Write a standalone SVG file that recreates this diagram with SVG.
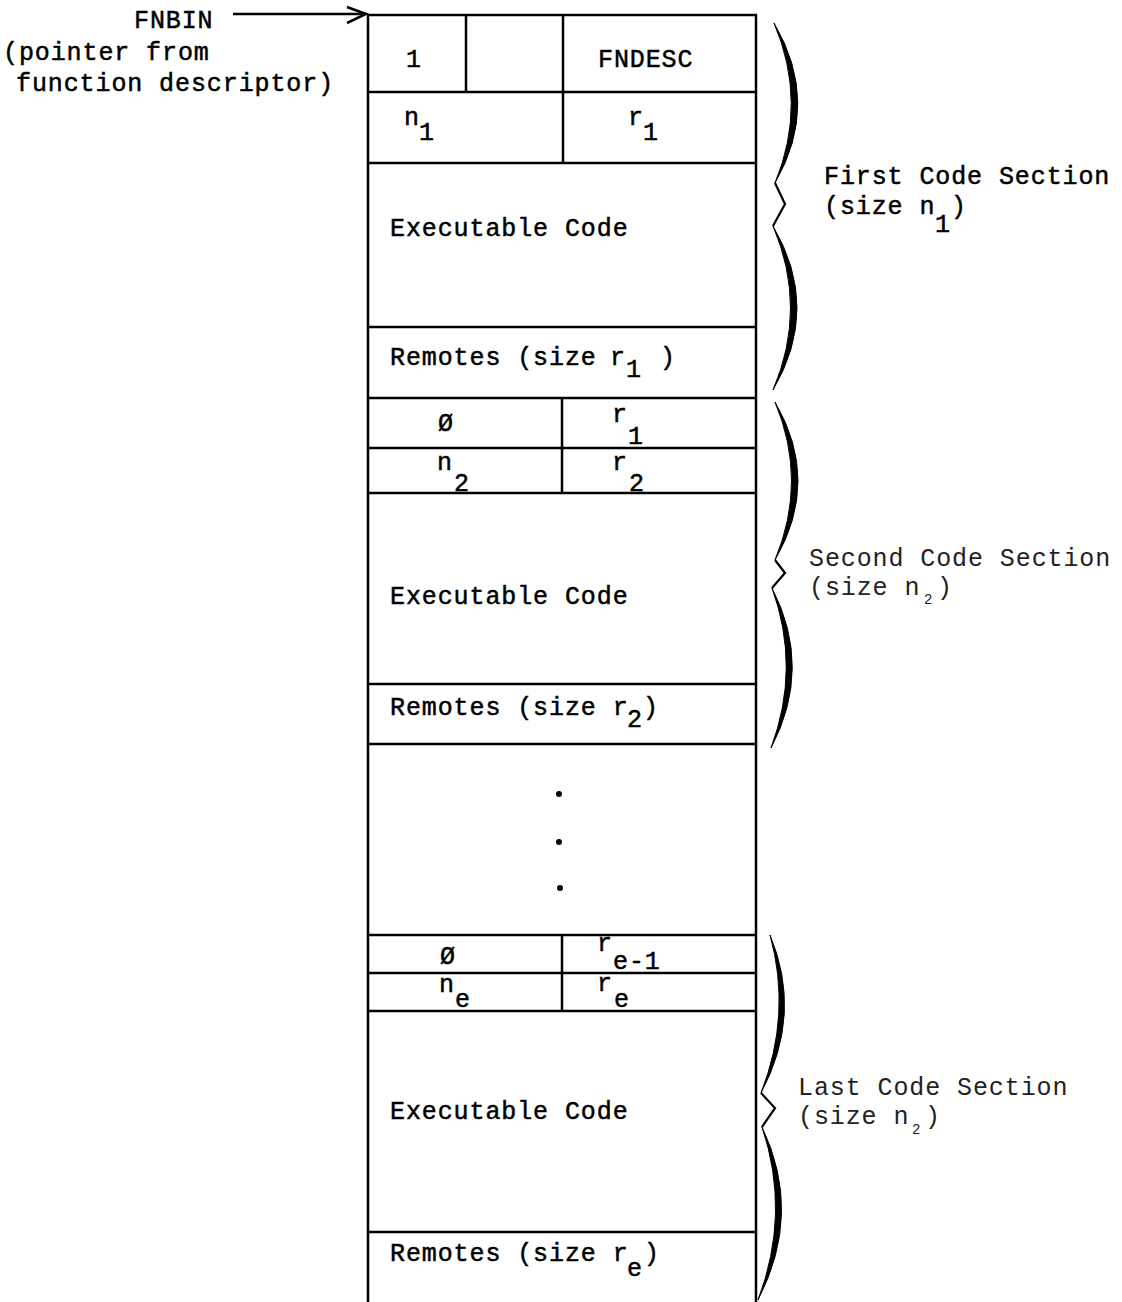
<svg xmlns="http://www.w3.org/2000/svg" width="1122" height="1302" viewBox="0 0 1122 1302">
<style>
.t{font-family:"Liberation Mono","DejaVu Sans Mono",monospace;font-size:25px;letter-spacing:0.9px;fill:#000;stroke:#000;stroke-width:0.5}
.lt{fill:#222;stroke:none}
.ln{stroke:#000;stroke-width:2.5;fill:none}
.br{fill:#000;stroke:#000;stroke-width:1}
.zz{fill:none;stroke:#000;stroke-width:2.2;stroke-linejoin:miter}
</style>
<rect width="1122" height="1302" fill="#fff"/>

<g id="pointer-label">
<text class="t" x="134" y="28">FNBIN</text>
<text class="t" x="3" y="60">(pointer from</text>
<text class="t" x="16" y="91">function descriptor)</text>
</g>

<g id="connectors">
<line class="ln" x1="233" y1="14" x2="365" y2="14"/>
<polyline class="ln" points="347,7 366,14 347,23"/>
</g>

<g id="table-frame">
<line class="ln" x1="367" y1="15" x2="757" y2="15"/>
<line class="ln" x1="368" y1="15" x2="368" y2="1302"/>
<line class="ln" x1="756" y1="15" x2="756" y2="1302"/>
</g>

<g id="header-row">
<line class="ln" x1="466" y1="15" x2="466" y2="92"/>
<line class="ln" x1="563" y1="15" x2="563" y2="163"/>
<line class="ln" x1="368" y1="92" x2="756" y2="92"/>
<text class="t" x="406" y="67">1</text>
<text class="t" x="598" y="67">FNDESC</text>
</g>

<g id="size-row-1">
<line class="ln" x1="368" y1="163" x2="756" y2="163"/>
<text class="t" x="404" y="125">n</text><text class="t" x="419" y="140">1</text>
<text class="t" x="628" y="125">r</text><text class="t" x="643" y="140">1</text>
</g>

<g id="code-1">
<line class="ln" x1="368" y1="327" x2="756" y2="327"/>
<text class="t" x="390" y="236">Executable Code</text>
</g>

<g id="remotes-1">
<line class="ln" x1="368" y1="398" x2="756" y2="398"/>
<text class="t" x="390" y="365">Remotes (size</text>
<text class="t" x="610" y="365">r</text><text class="t" x="626" y="377">1</text>
<text class="t" x="660" y="365">)</text>
</g>

<g id="link-row-1">
<line class="ln" x1="368" y1="448" x2="756" y2="448"/>
<line class="ln" x1="562" y1="398" x2="562" y2="493"/>
<text class="t" x="438" y="431">Ø</text>
<text class="t" x="612" y="422">r</text><text class="t" x="628" y="444">1</text>
</g>

<g id="size-row-2">
<line class="ln" x1="368" y1="493" x2="756" y2="493"/>
<text class="t" x="437" y="470">n</text><text class="t" x="454" y="491">2</text>
<text class="t" x="612" y="470">r</text><text class="t" x="629" y="491">2</text>
</g>

<g id="code-2">
<line class="ln" x1="368" y1="684" x2="756" y2="684"/>
<text class="t" x="390" y="604">Executable Code</text>
</g>

<g id="remotes-2">
<line class="ln" x1="368" y1="744" x2="756" y2="744"/>
<text class="t" x="390" y="715">Remotes (size r</text>
<text class="t" x="627" y="727">2</text>
<text class="t" x="643" y="715">)</text>
</g>

<g id="ellipsis">
<circle cx="559" cy="794" r="3"/>
<circle cx="559" cy="842" r="3"/>
<circle cx="560" cy="888" r="3"/>
</g>

<g id="link-row-e">
<line class="ln" x1="368" y1="935" x2="756" y2="935"/>
<line class="ln" x1="368" y1="973" x2="756" y2="973"/>
<line class="ln" x1="562" y1="935" x2="562" y2="1011"/>
<text class="t" x="440" y="964">Ø</text>
<text class="t" x="597" y="951">r</text><text class="t" x="613" y="969">e-1</text>
</g>

<g id="size-row-e">
<line class="ln" x1="368" y1="1011" x2="756" y2="1011"/>
<text class="t" x="439" y="992">n</text><text class="t" x="455" y="1007">e</text>
<text class="t" x="597" y="991">r</text><text class="t" x="614" y="1007">e</text>
</g>

<g id="code-e">
<line class="ln" x1="368" y1="1232" x2="756" y2="1232"/>
<text class="t" x="390" y="1119">Executable Code</text>
</g>

<g id="remotes-e">
<text class="t" x="390" y="1261">Remotes (size r</text>
<text class="t" x="627" y="1276">e</text>
<text class="t" x="644" y="1261">)</text>
</g>

<g id="first-section">
<path class="br" d="M774,23 Q821,103 775,183 Q808,103 774,23 Z"/>
<polyline class="zz" points="775,183 785,204 773,226"/>
<path class="br" d="M773,226 Q821,308 773,390 Q808,308 773,226 Z"/>
<text class="t" x="824" y="184">First Code Section</text>
<text class="t" x="824" y="214">(size n</text>
<text class="t" x="935" y="232">1</text>
<text class="t" x="951" y="214">)</text>
</g>

<g id="second-section">
<path class="br" d="M775,402 Q821,481 775,560 Q808,481 775,402 Z"/>
<polyline class="zz" points="775,560 785,573 772,588"/>
<path class="br" d="M772,588 Q813,668 771,748 Q801,668 772,588 Z"/>
<text class="t lt" x="809" y="566">Second Code Section</text>
<text class="t lt" x="809" y="595">(size n</text>
<text class="t lt" x="924" y="604" style="font-size:14px">2</text>
<text class="t lt" x="937" y="595">)</text>
</g>

<g id="last-section">
<path class="br" d="M770,935 Q803,1014 761,1093 Q792,1014 770,935 Z"/>
<polyline class="zz" points="761,1093 775,1108 762,1127"/>
<path class="br" d="M762,1127 Q803,1213 758,1300 Q791,1213 762,1127 Z"/>
<text class="t lt" x="798" y="1095">Last Code Section</text>
<text class="t lt" x="798" y="1124">(size n</text>
<text class="t lt" x="912" y="1134" style="font-size:14px">2</text>
<text class="t lt" x="925" y="1124">)</text>
</g>
</svg>
